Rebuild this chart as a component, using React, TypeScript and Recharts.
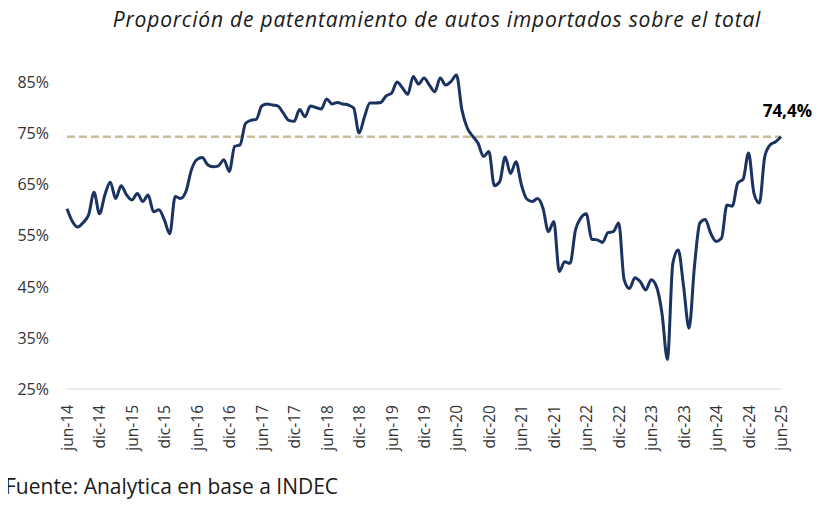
import { LineChart, Line, XAxis, YAxis, ReferenceLine } from 'recharts';

const MONTHS = ['ene', 'feb', 'mar', 'abr', 'may', 'jun', 'jul', 'ago', 'sep', 'oct', 'nov', 'dic'];

// jun-14 .. jun-25, monthly share of imported cars (%)
const shares = [
  60.3, 57.8, 56.7, 57.6, 59.1, 63.5, 59.3, 63.0, 65.5, 62.3, 64.8, 63.0,
  62.0, 63.3, 61.7, 63.0, 59.7, 60.1, 58.1, 55.4, 62.7, 62.3, 63.7, 67.9,
  69.9, 70.3, 68.9, 68.5, 68.7, 69.9, 67.6, 72.5, 72.8, 77.0, 77.6, 77.8,
  80.4, 80.8, 80.6, 80.4, 79.0, 77.6, 77.4, 79.7, 78.3, 80.4, 80.1, 79.8,
  81.8, 80.8, 81.1, 80.8, 80.6, 80.0, 75.1, 78.3, 81.0, 81.0, 81.1, 82.4,
  82.9, 85.1, 84.0, 82.7, 86.2, 84.7, 85.9, 84.5, 83.2, 85.9, 84.5, 85.2,
  86.5, 79.7, 76.1, 74.5, 73.1, 70.5, 71.5, 64.8, 65.6, 70.4, 67.2, 69.5,
  65.0, 62.2, 61.7, 62.3, 60.4, 55.8, 57.8, 48.0, 49.9, 49.6, 56.1, 58.5,
  59.3, 54.3, 54.2, 53.7, 55.6, 55.8, 57.5, 46.4, 44.7, 46.8, 46.0, 44.4,
  46.4, 45.0, 39.8, 30.8, 49.6, 52.2, 45.0, 36.9, 49.0, 57.5, 58.2, 55.5,
  53.9, 54.5, 61.0, 60.8, 65.3, 66.1, 71.2, 63.3, 61.4, 70.5, 72.8, 73.4,
  74.4,
];

const yTicks = [25, 35, 45, 55, 65, 75, 85];
const lastValue = 74.4;
const lastLabel = '74,4%';

const data = shares.map((v, i) => {
  const m = (5 + i) % 12;
  const y = 14 + Math.floor((5 + i) / 12);
  return { label: `${MONTHS[m]}-${y}`, share: v };
});

const FONT = '"Open Sans", "DejaVu Sans", sans-serif';

function XTick(props: any) {
  const { x, y, payload } = props;
  return (
    <text
      x={x}
      y={y}
      transform={`rotate(-90, ${x}, ${y})`}
      textAnchor="end"
      dominantBaseline="central"
      fontSize={15.5}
      fill="#333"
      fontFamily={FONT}
    >
      {payload.value}
    </text>
  );
}

function EndLabel(props: any) {
  const { viewBox } = props;
  return (
    <text
      x={viewBox.x + viewBox.width + 31}
      y={viewBox.y - 20}
      textAnchor="end"
      fontSize={17}
      fontWeight="bold"
      fill="#000"
      fontFamily={FONT}
    >
      {lastLabel}
    </text>
  );
}

export default function App() {
  return (
    <div style={{ position: 'relative', width: 809, height: 492, fontFamily: FONT }}>
      <div
        style={{
          position: 'absolute',
          top: -1,
          left: 0,
          width: 858,
          textAlign: 'center',
          fontSize: 21,
          letterSpacing: 0.8,
          fontStyle: 'italic',
          color: '#1a1a1a',
          lineHeight: '24px',
        }}
      >
        Proporción de patentamiento de autos importados sobre el total
      </div>
      <LineChart
        width={809}
        height={470}
        data={data}
        margin={{ top: 49, right: 36, left: 0, bottom: 14 }}
      >
        <XAxis
          dataKey="label"
          interval={5}
          tickLine={false}
          axisLine={{ stroke: '#d9d9d9', strokeWidth: 1 }}
          tick={<XTick />}
          tickMargin={10}
          height={75}
        />
        <YAxis
          domain={[25, 90]}
          ticks={yTicks}
          width={59}
          axisLine={false}
          tickLine={false}
          tickSize={0}
          tickMargin={18}
          tickFormatter={(v: number) => `${v}%`}
          tick={{ fontSize: 16, fill: '#333', fontFamily: FONT }}
        />
        <ReferenceLine
          y={lastValue}
          stroke="#c9bf98"
          strokeWidth={2.5}
          strokeDasharray="8 4"
          label={<EndLabel />}
        />
        <Line
          type="monotone"
          dataKey="share"
          stroke="#1b3361"
          strokeWidth={3}
          dot={false}
          isAnimationActive={false}
        />
      </LineChart>
      <div
        style={{
          position: 'absolute',
          top: 464,
          left: -3,
          fontSize: 21,
          color: '#1a1a1a',
          whiteSpace: 'nowrap',
        }}
      >
        Fuente: Analytica en base a INDEC
      </div>
    </div>
  );
}
